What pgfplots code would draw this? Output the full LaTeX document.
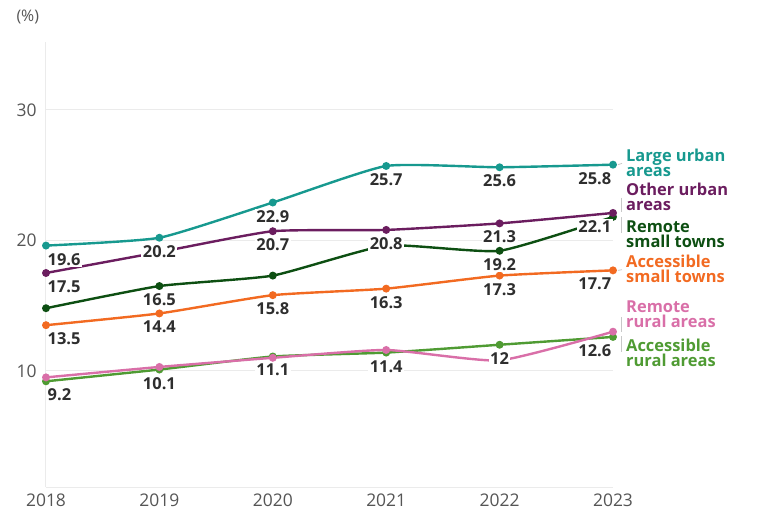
\documentclass[border=0pt]{standalone}
\usepackage{fontspec}
\setmainfont{Open Sans}
\usepackage{pgfplots}
\pgfplotsset{compat=1.18}

\definecolor{cteal}{HTML}{17998F}
\definecolor{cpurple}{HTML}{6B1D5F}
\definecolor{cdkgreen}{HTML}{0D4F12}
\definecolor{corange}{HTML}{F26A21}
\definecolor{cpink}{HTML}{D96FA8}
\definecolor{cgreen}{HTML}{4F9B33}
\definecolor{ctext}{HTML}{2E2E2E}
\definecolor{ctick}{HTML}{555555}
\definecolor{cgrid}{HTML}{EBEBEB}
\definecolor{cbracket}{HTML}{C8C8C8}

\tikzset{
	lbl/.style={fill=white, inner sep=1.5bp, text=ctext, yshift=-6bp,
		font=\fontsize{16.5}{18}\selectfont\bfseries},
	key/.style={anchor=west, align=left, xshift=13bp, inner sep=0pt,
		font=\fontsize{16.5}{15}\selectfont\bfseries},
}
\pgfplotsset{
	frame/.style={
		at={(0,0)}, anchor=south west,
		width=567bp, height=445bp, scale only axis,
		clip=false,
		xmin=2018, xmax=2023,
		ymin=1.1, ymax=35.2,
	},
}

\begin{document}
\begin{tikzpicture}
\useasboundingbox (-46bp,-41bp) rectangle (714bp,487bp);

% ---------------------------------------------------------------
%                         Lines
% ---------------------------------------------------------------
\begin{axis}[
	frame,
	axis x line=bottom, axis y line=left,
	x axis line style={-, draw=cgrid, line width=1bp},
	y axis line style={-, draw=cgrid, line width=1bp},
	xtick={2018,2019,2020,2021,2022,2023},
	ytick={10,20,30},
	major tick length=0pt,
	ymajorgrids,
	grid style={draw=cgrid, line width=1bp},
	/pgf/number format/assume math mode=true,
	/pgf/number format/1000 sep={},
	tick label style={text=ctick, font=\fontsize{17.5}{20}\selectfont},
	xticklabel style={yshift=-3bp},
	yticklabel style={xshift=-6bp},
	every axis plot/.append style={line width=2.4bp,
		smooth, tension=0.3, mark=*, mark size=2.7bp, mark options={solid}},
]
% Accessible rural areas
\addplot[cgreen] coordinates {
	(2018, 9.2) (2019, 10.1) (2020, 11.1) (2021, 11.4) (2022, 12.0) (2023, 12.6)
};
% Remote rural areas
\addplot[cpink] coordinates {
	(2018, 9.5) (2019, 10.3) (2020, 11.0) (2021, 11.6) (2022, 10.8) (2023, 13.0)
};
% Accessible small towns
\addplot[corange] coordinates {
	(2018, 13.5) (2019, 14.4) (2020, 15.8) (2021, 16.3) (2022, 17.3) (2023, 17.7)
};
% Remote small towns
\addplot[cdkgreen] coordinates {
	(2018, 14.8) (2019, 16.5) (2020, 17.3) (2021, 19.6) (2022, 19.2) (2023, 21.8)
};
% Other urban areas
\addplot[cpurple] coordinates {
	(2018, 17.5) (2019, 19.1) (2020, 20.7) (2021, 20.8) (2022, 21.3) (2023, 22.1)
};
% Large urban areas
\addplot[cteal] coordinates {
	(2018, 19.6) (2019, 20.2) (2020, 22.9) (2021, 25.7) (2022, 25.6) (2023, 25.8)
};
\end{axis}

% ---------------------------------------------------------------
%            Labels: second axis on top, same frame
% ---------------------------------------------------------------
\begin{axis}[frame, hide axis]
\node[lbl, anchor=north west] at (axis cs:2018,19.6) {19.6};
\node[lbl, anchor=north west] at (axis cs:2018,17.5) {17.5};
\node[lbl, anchor=north west] at (axis cs:2018,13.5) {13.5};
\node[lbl, anchor=north west] at (axis cs:2018,9.2) {9.2};

\node[lbl, anchor=north] at (axis cs:2019,20.2) {20.2};
\node[lbl, anchor=north] at (axis cs:2019,16.5) {16.5};
\node[lbl, anchor=north] at (axis cs:2019,14.4) {14.4};
\node[lbl, anchor=north] at (axis cs:2019,10.1) {10.1};

\node[lbl, anchor=north] at (axis cs:2020,22.9) {22.9};
\node[lbl, anchor=north] at (axis cs:2020,20.7) {20.7};
\node[lbl, anchor=north] at (axis cs:2020,15.8) {15.8};
\node[lbl, anchor=north] at (axis cs:2020,11.1) {11.1};

\node[lbl, anchor=north] at (axis cs:2021,25.7) {25.7};
\node[lbl, anchor=north] at (axis cs:2021,20.8) {20.8};
\node[lbl, anchor=north] at (axis cs:2021,16.3) {16.3};
\node[lbl, anchor=north] at (axis cs:2021,11.4) {11.4};

\node[lbl, anchor=north] at (axis cs:2022,25.6) {25.6};
\node[lbl, anchor=north] at (axis cs:2022,21.3) {21.3};
\node[lbl, anchor=north] at (axis cs:2022,19.2) {19.2};
\node[lbl, anchor=north] at (axis cs:2022,17.3) {17.3};
\node[lbl, anchor=north] at (axis cs:2022,12.0) {12};

\node[lbl, anchor=north east] at (axis cs:2023,25.8) {25.8};
\node[lbl, anchor=north east] at (axis cs:2023,22.1) {22.1};
\node[lbl, anchor=north east] at (axis cs:2023,17.7) {17.7};
\node[lbl, anchor=north east] at (axis cs:2023,12.6) {12.6};

% right-hand keys
\draw[cbracket, line width=0.8bp] ([xshift=5bp]axis cs:2023,25.8) -- ([xshift=9bp]axis cs:2023,25.9);
\draw[cbracket, line width=0.8bp] ([xshift=5bp]axis cs:2023,17.7) -- ([xshift=9bp]axis cs:2023,17.75);
\draw[cbracket, line width=0.8bp] ([xshift=8bp]axis cs:2023,23.28) -- ([xshift=8bp]axis cs:2023,22.14);
\draw[cbracket, line width=0.8bp] ([xshift=8bp]axis cs:2023,21.76) -- ([xshift=8bp]axis cs:2023,20.53);
\draw[cbracket, line width=0.8bp] ([xshift=8bp]axis cs:2023,14.12) -- ([xshift=8bp]axis cs:2023,12.98);
\draw[cbracket, line width=0.8bp] ([xshift=8bp]axis cs:2023,12.67) -- ([xshift=8bp]axis cs:2023,11.45);

\node[key, text=cteal] at (axis cs:2023,25.95) {Large urban\\areas};
\node[key, text=cpurple] at (axis cs:2023,23.36) {Other urban\\areas};
\node[key, text=cdkgreen] at (axis cs:2023,20.46) {Remote\\small towns};
\node[key, text=corange] at (axis cs:2023,17.79) {Accessible\\small towns};
\node[key, text=cpink] at (axis cs:2023,14.35) {Remote\\rural areas};
\node[key, text=cgreen] at (axis cs:2023,11.37) {Accessible\\rural areas};

\node[anchor=west, text=ctick, font=\fontsize{16}{18}\selectfont]
	at ([xshift=-33bp, yshift=25bp]rel axis cs:0,1) {(\%)};
\end{axis}
\end{tikzpicture}
\end{document}
